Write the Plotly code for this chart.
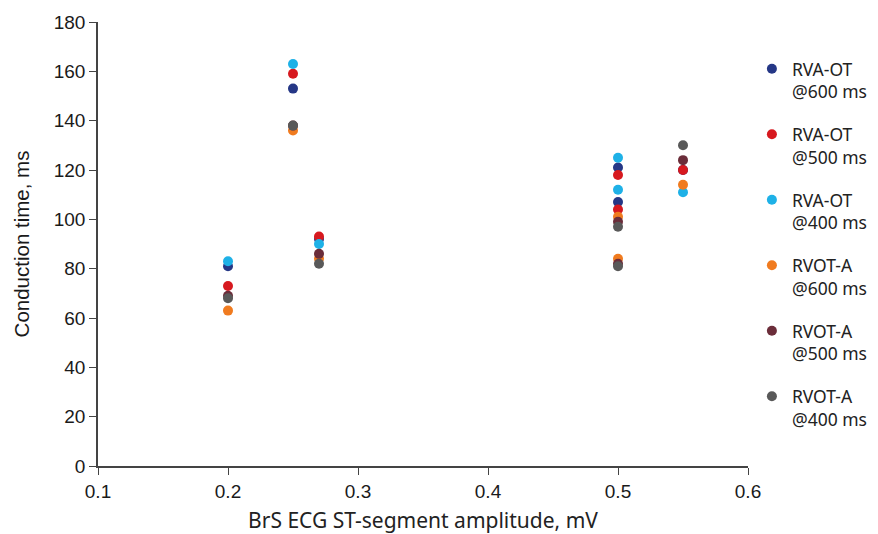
import plotly.graph_objects as go

series_names = ["RVA-OT<br>@600 ms", "RVA-OT<br>@500 ms", "RVA-OT<br>@400 ms",
                "RVOT-A<br>@600 ms", "RVOT-A<br>@500 ms", "RVOT-A<br>@400 ms"]
colors = ["#253786", "#d7191f", "#1eb1e7", "#f07b1f", "#6b2d3a", "#595959"]

amplitude = [0.2, 0.25, 0.27, 0.5, 0.5, 0.55]

rva_ot_600 = [81, 153, 92, 121, 107, 120]
rva_ot_500 = [73, 159, 93, 118, 104, 120]
rva_ot_400 = [83, 163, 90, 125, 112, 111]
rvot_a_600 = [63, 136, 84, 101, 84, 114]
rvot_a_500 = [69, 138, 86, 99, 82, 124]
rvot_a_400 = [68, 138, 82, 97, 81, 130]

values = [rva_ot_600, rva_ot_500, rva_ot_400, rvot_a_600, rvot_a_500, rvot_a_400]

fig = go.Figure()
for i, (name, col, vals) in enumerate(zip(series_names, colors, values)):
    fig.add_trace(go.Scatter(
        x=amplitude, y=vals, mode="markers", name=name,
        marker=dict(color=col, size=10, line=dict(width=0)),
        legendgroup=str(i),
    ))

tick_font = dict(family="Arial", size=19, color="#1a1a1a")
fig.update_layout(
    width=878, height=534,
    margin=dict(l=98, r=130, t=22, b=68, autoexpand=False),
    plot_bgcolor="white", paper_bgcolor="white",
    showlegend=True,
    legend=dict(x=1.006, xanchor="left", y=0.935, yanchor="top",
                font=dict(family="Noto Sans, sans-serif", size=17.5, color="#222"),
                tracegroupgap=17, valign="top", itemwidth=30),
    xaxis=dict(range=[0.1, 0.6], dtick=0.1, tick0=0.1, showgrid=False, zeroline=False,
               showline=True, linecolor="#444", linewidth=1.5,
               ticks="outside", ticklen=7, tickcolor="#444",
               tickfont=tick_font, tickformat=".1f", automargin=False,
               title=dict(text="BrS ECG ST-segment amplitude, mV",
                          font=dict(family="Noto Sans, sans-serif", size=21, color="#222"),
                          standoff=19)),
    yaxis=dict(range=[0, 180], dtick=20, showgrid=False, zeroline=False,
               showline=True, linecolor="#444", linewidth=1.5,
               ticks="outside", ticklen=7, tickcolor="#444",
               tickfont=tick_font, automargin=False,
               title=dict(text="Conduction time, ms",
                          font=dict(family="Arial", size=20.5, color="#1a1a1a"),
                          standoff=19)),
)

fig.write_html("out.html", config={"displayModeBar": False},
               post_script="document.body.style.margin='0';")
